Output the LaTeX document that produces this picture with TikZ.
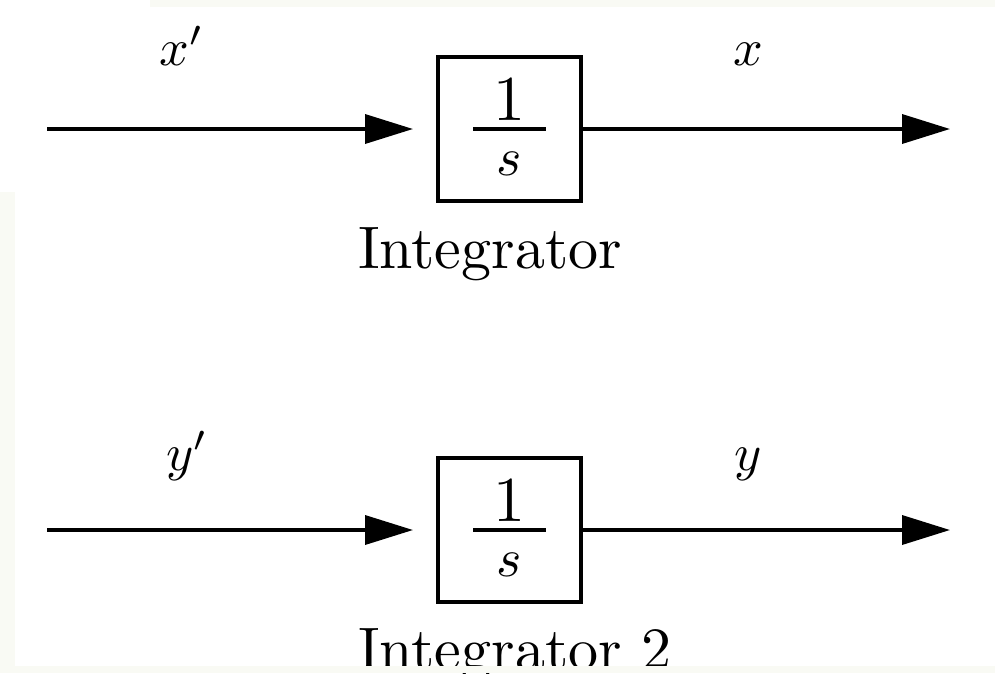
\documentclass[tikz,border=0pt]{standalone}
\usetikzlibrary{arrows.meta}
\definecolor{band}{RGB}{249,250,244}
\newcommand{\bigmath}[2]{\scalebox{#1}{$#2$}}
\begin{document}
\begin{tikzpicture}[x=1pt,y=-1pt,
  sig/.style={line width=3.6pt,-{Triangle[length=48pt,width=29pt]}},
  blk/.style={draw,line width=3.8pt,minimum width=143pt,minimum height=144pt,inner sep=0pt},
  lbl/.style={anchor=base,inner sep=0pt},
  captext/.style={anchor=base west,inner sep=0pt},
  num/.style={anchor=base,inner sep=0pt},
  den/.style={anchor=base,inner sep=0pt}]
\useasboundingbox (0,0) rectangle (995,673);
\clip (0,0) rectangle (995,673);
\fill[band] (150,0) rectangle (995,7);
\fill[band] (0,192) rectangle (15,673);
% top integrator
\node[blk] (b1) at (509.5,129) {};
\coordinate (in1) at (47,129);
\coordinate (out1) at (950,129);
\node[num] (n1) at (509.5,120) {\bigmath{6.4}{1}};
\draw[line width=3.6pt] (473,129) -- (546,129);
\node[den] (d1) at (509.5,175) {\bigmath{5.4}{s}};
\node[lbl] (lx1) at (182,65) {\bigmath{5.2}{x'}};
\node[lbl] (lx2) at (748,65) {\bigmath{5.2}{x}};
\node[captext] (c1) at (358,268) {\scalebox{6}{Integrator}};
% bottom integrator
\node[blk] (b2) at (509.5,530) {};
\coordinate (in2) at (47,530);
\coordinate (out2) at (950,530);
\node[num] (n2) at (509.5,521) {\bigmath{6.4}{1}};
\draw[line width=3.6pt] (473,530) -- (546,530);
\node[den] (d2) at (509.5,576) {\bigmath{5.4}{s}};
\node[lbl] (ly1) at (187,470) {\bigmath{5.2}{y'}};
\node[lbl] (ly2) at (748,470) {\bigmath{5.2}{y}};
\node[captext] (c2) at (358,669) {\scalebox{6}{Integrator 2}};
% connectors
\coordinate (t1) at (413,129);
\coordinate (t2) at (413,530);
\draw[sig] (in1) -- (t1);
\draw[sig] (b1.east) -- (out1);
\draw[sig] (in2) -- (t2);
\draw[sig] (b2.east) -- (out2);
\fill[band] (0,666) rectangle (995,673);
\end{tikzpicture}
\end{document}
